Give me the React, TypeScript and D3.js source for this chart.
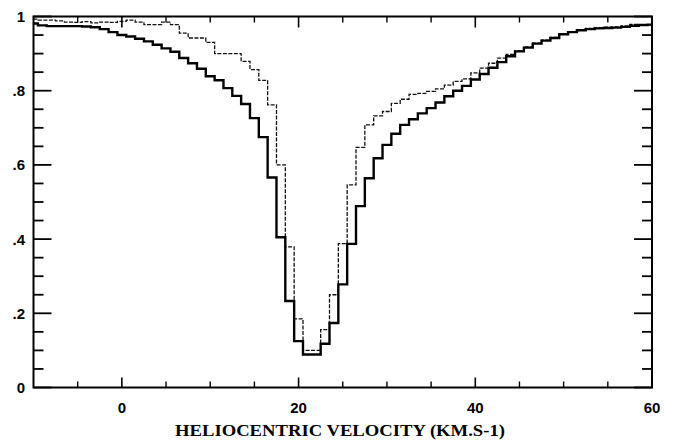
import React from "react";
import * as d3 from "d3";

const VELOCITY = [-10, -9, -8, -7, -6, -5, -4, -3, -2, -1, 0, 1, 2, 3, 4, 5, 6, 7, 8, 9, 10, 11, 12, 13, 14, 15, 16, 17, 18, 19, 20, 21, 22, 23, 24, 25, 26, 27, 28, 29, 30, 31, 32, 33, 34, 35, 36, 37, 38, 39, 40, 41, 42, 43, 44, 45, 46, 47, 48, 49, 50, 51, 52, 53, 54, 55, 56, 57, 58, 59, 60];

const SOLID = [0.981, 0.976, 0.974, 0.974, 0.974, 0.974, 0.973, 0.971, 0.966, 0.958, 0.95, 0.946, 0.94, 0.933, 0.924, 0.914, 0.905, 0.888, 0.874, 0.859, 0.839, 0.828, 0.807, 0.786, 0.764, 0.726, 0.675, 0.566, 0.405, 0.233, 0.125, 0.089, 0.089, 0.118, 0.174, 0.278, 0.387, 0.489, 0.564, 0.618, 0.654, 0.684, 0.708, 0.723, 0.739, 0.753, 0.768, 0.785, 0.8, 0.813, 0.83, 0.845, 0.862, 0.877, 0.893, 0.906, 0.916, 0.927, 0.935, 0.942, 0.952, 0.958, 0.963, 0.966, 0.968, 0.969, 0.97, 0.972, 0.975, 0.977, 0.978];

const DASHED = [0.993, 0.99, 0.99, 0.988, 0.985, 0.984, 0.986, 0.983, 0.985, 0.984, 0.987, 0.99, 0.985, 0.978, 0.978, 0.985, 0.978, 0.955, 0.942, 0.942, 0.93, 0.9, 0.9, 0.9, 0.879, 0.857, 0.828, 0.762, 0.6, 0.379, 0.185, 0.1, 0.1, 0.156, 0.25, 0.388, 0.546, 0.647, 0.708, 0.732, 0.744, 0.766, 0.777, 0.79, 0.793, 0.798, 0.805, 0.815, 0.825, 0.832, 0.848, 0.861, 0.874, 0.888, 0.898, 0.908, 0.918, 0.928, 0.936, 0.944, 0.952, 0.958, 0.964, 0.968, 0.97, 0.971, 0.972, 0.975, 0.979, 0.978, 0.977];

const X_MAJOR = [0, 20, 40, 60];
const X_MAJOR_LABELS = ["0", "20", "40", "60"];
const X_MINOR = [-5, 5, 10, 15, 25, 30, 35, 45, 50, 55];
const Y_MAJOR = [0, 0.2, 0.4, 0.6, 0.8, 1];
const Y_MAJOR_LABELS = ["0", ".2", ".4", ".6", ".8", "1"];
const Y_MINOR = [0.05, 0.1, 0.15, 0.25, 0.3, 0.35, 0.45, 0.5, 0.55, 0.65, 0.7, 0.75, 0.85, 0.9, 0.95];
const X_TITLE = "HELIOCENTRIC VELOCITY (KM.S-1)";

const W = 678;
const H = 441;
const L = 33.5;
const R = 652;
const T = 16.5;
const B = 387.5;

export default function App() {
  const x = d3.scaleLinear().domain([-10, 60]).range([L, R]);
  const y = d3.scaleLinear().domain([0, 1]).range([B, T]);

  const stepPath = (vals: number[]) => {
    const pts: [number, number][] = VELOCITY.map((v, i) => [Math.max(-10, v - 0.5), vals[i]]);
    pts.push([60, vals[vals.length - 1]]);
    return d3
      .line<[number, number]>()
      .x((d) => x(d[0]))
      .y((d) => y(d[1]))
      .curve(d3.curveStepAfter)(pts) as string;
  };

  const labelFont = "'Liberation Sans', Arial, sans-serif";

  return (
    <svg
      width={W}
      height={H}
      style={{ position: "absolute", left: 0, top: 0, background: "#fff" }}
    >
      <rect x={0} y={0} width={W} height={H} fill="#fff" />
      <defs>
        <clipPath id="plot">
          <rect x={L} y={T - 1} width={R - L} height={B - T + 1} />
        </clipPath>
      </defs>
      <g clipPath="url(#plot)">
        <path d={stepPath(DASHED)} fill="none" stroke="#111" strokeWidth={1.3} strokeDasharray="4 1.5" />
        <path d={stepPath(SOLID)} fill="none" stroke="#000" strokeWidth={2.4} />
      </g>
      {/* frame */}
      <rect x={L} y={T} width={R - L} height={B - T} fill="none" stroke="#000" strokeWidth={2} />
      {/* x ticks */}
      {X_MAJOR.map((v) => (
        <g key={"xm" + v}>
          <line x1={x(v)} x2={x(v)} y1={B} y2={B - 10} stroke="#000" strokeWidth={1.6} />
          <line x1={x(v)} x2={x(v)} y1={T} y2={T + 11} stroke="#000" strokeWidth={1.6} />
        </g>
      ))}
      {X_MINOR.map((v) => (
        <g key={"xn" + v}>
          <line x1={x(v)} x2={x(v)} y1={B} y2={B - 6} stroke="#000" strokeWidth={1.4} />
          <line x1={x(v)} x2={x(v)} y1={T} y2={T + 6} stroke="#000" strokeWidth={1.4} />
        </g>
      ))}
      {/* y ticks */}
      {Y_MAJOR.map((v) => (
        <g key={"ym" + v}>
          <line x1={L} x2={L + 18} y1={y(v)} y2={y(v)} stroke="#000" strokeWidth={1.8} />
          <line x1={R} x2={R - 18} y1={y(v)} y2={y(v)} stroke="#000" strokeWidth={1.8} />
        </g>
      ))}
      {Y_MINOR.map((v) => (
        <g key={"yn" + v}>
          <line x1={L} x2={L + 10} y1={y(v)} y2={y(v)} stroke="#000" strokeWidth={1.8} />
          <line x1={R} x2={R - 10} y1={y(v)} y2={y(v)} stroke="#000" strokeWidth={1.8} />
        </g>
      ))}
      {/* y labels */}
      {Y_MAJOR.map((v, i) => (
        <text
          key={"yl" + v}
          x={25}
          y={y(v)}
          dy="0.36em"
          textAnchor="end"
          fontFamily={labelFont}
          fontWeight="bold"
          fontSize={15}
          fill="#000"
        >
          {Y_MAJOR_LABELS[i]}
        </text>
      ))}
      {/* x labels */}
      {X_MAJOR.map((v, i) => (
        <text
          key={"xl" + v}
          x={x(v)}
          y={413}
          textAnchor="middle"
          fontFamily={labelFont}
          fontWeight="bold"
          fontSize={15}
          fill="#000"
        >
          {X_MAJOR_LABELS[i]}
        </text>
      ))}
      <text
        x={175}
        y={436}
        textLength={330}
        lengthAdjust="spacingAndGlyphs"
        fontFamily="'Liberation Serif', 'DejaVu Serif', serif"
        fontWeight="bold"
        fontSize={17}
        fill="#000"
      >
        {X_TITLE}
      </text>
    </svg>
  );
}
